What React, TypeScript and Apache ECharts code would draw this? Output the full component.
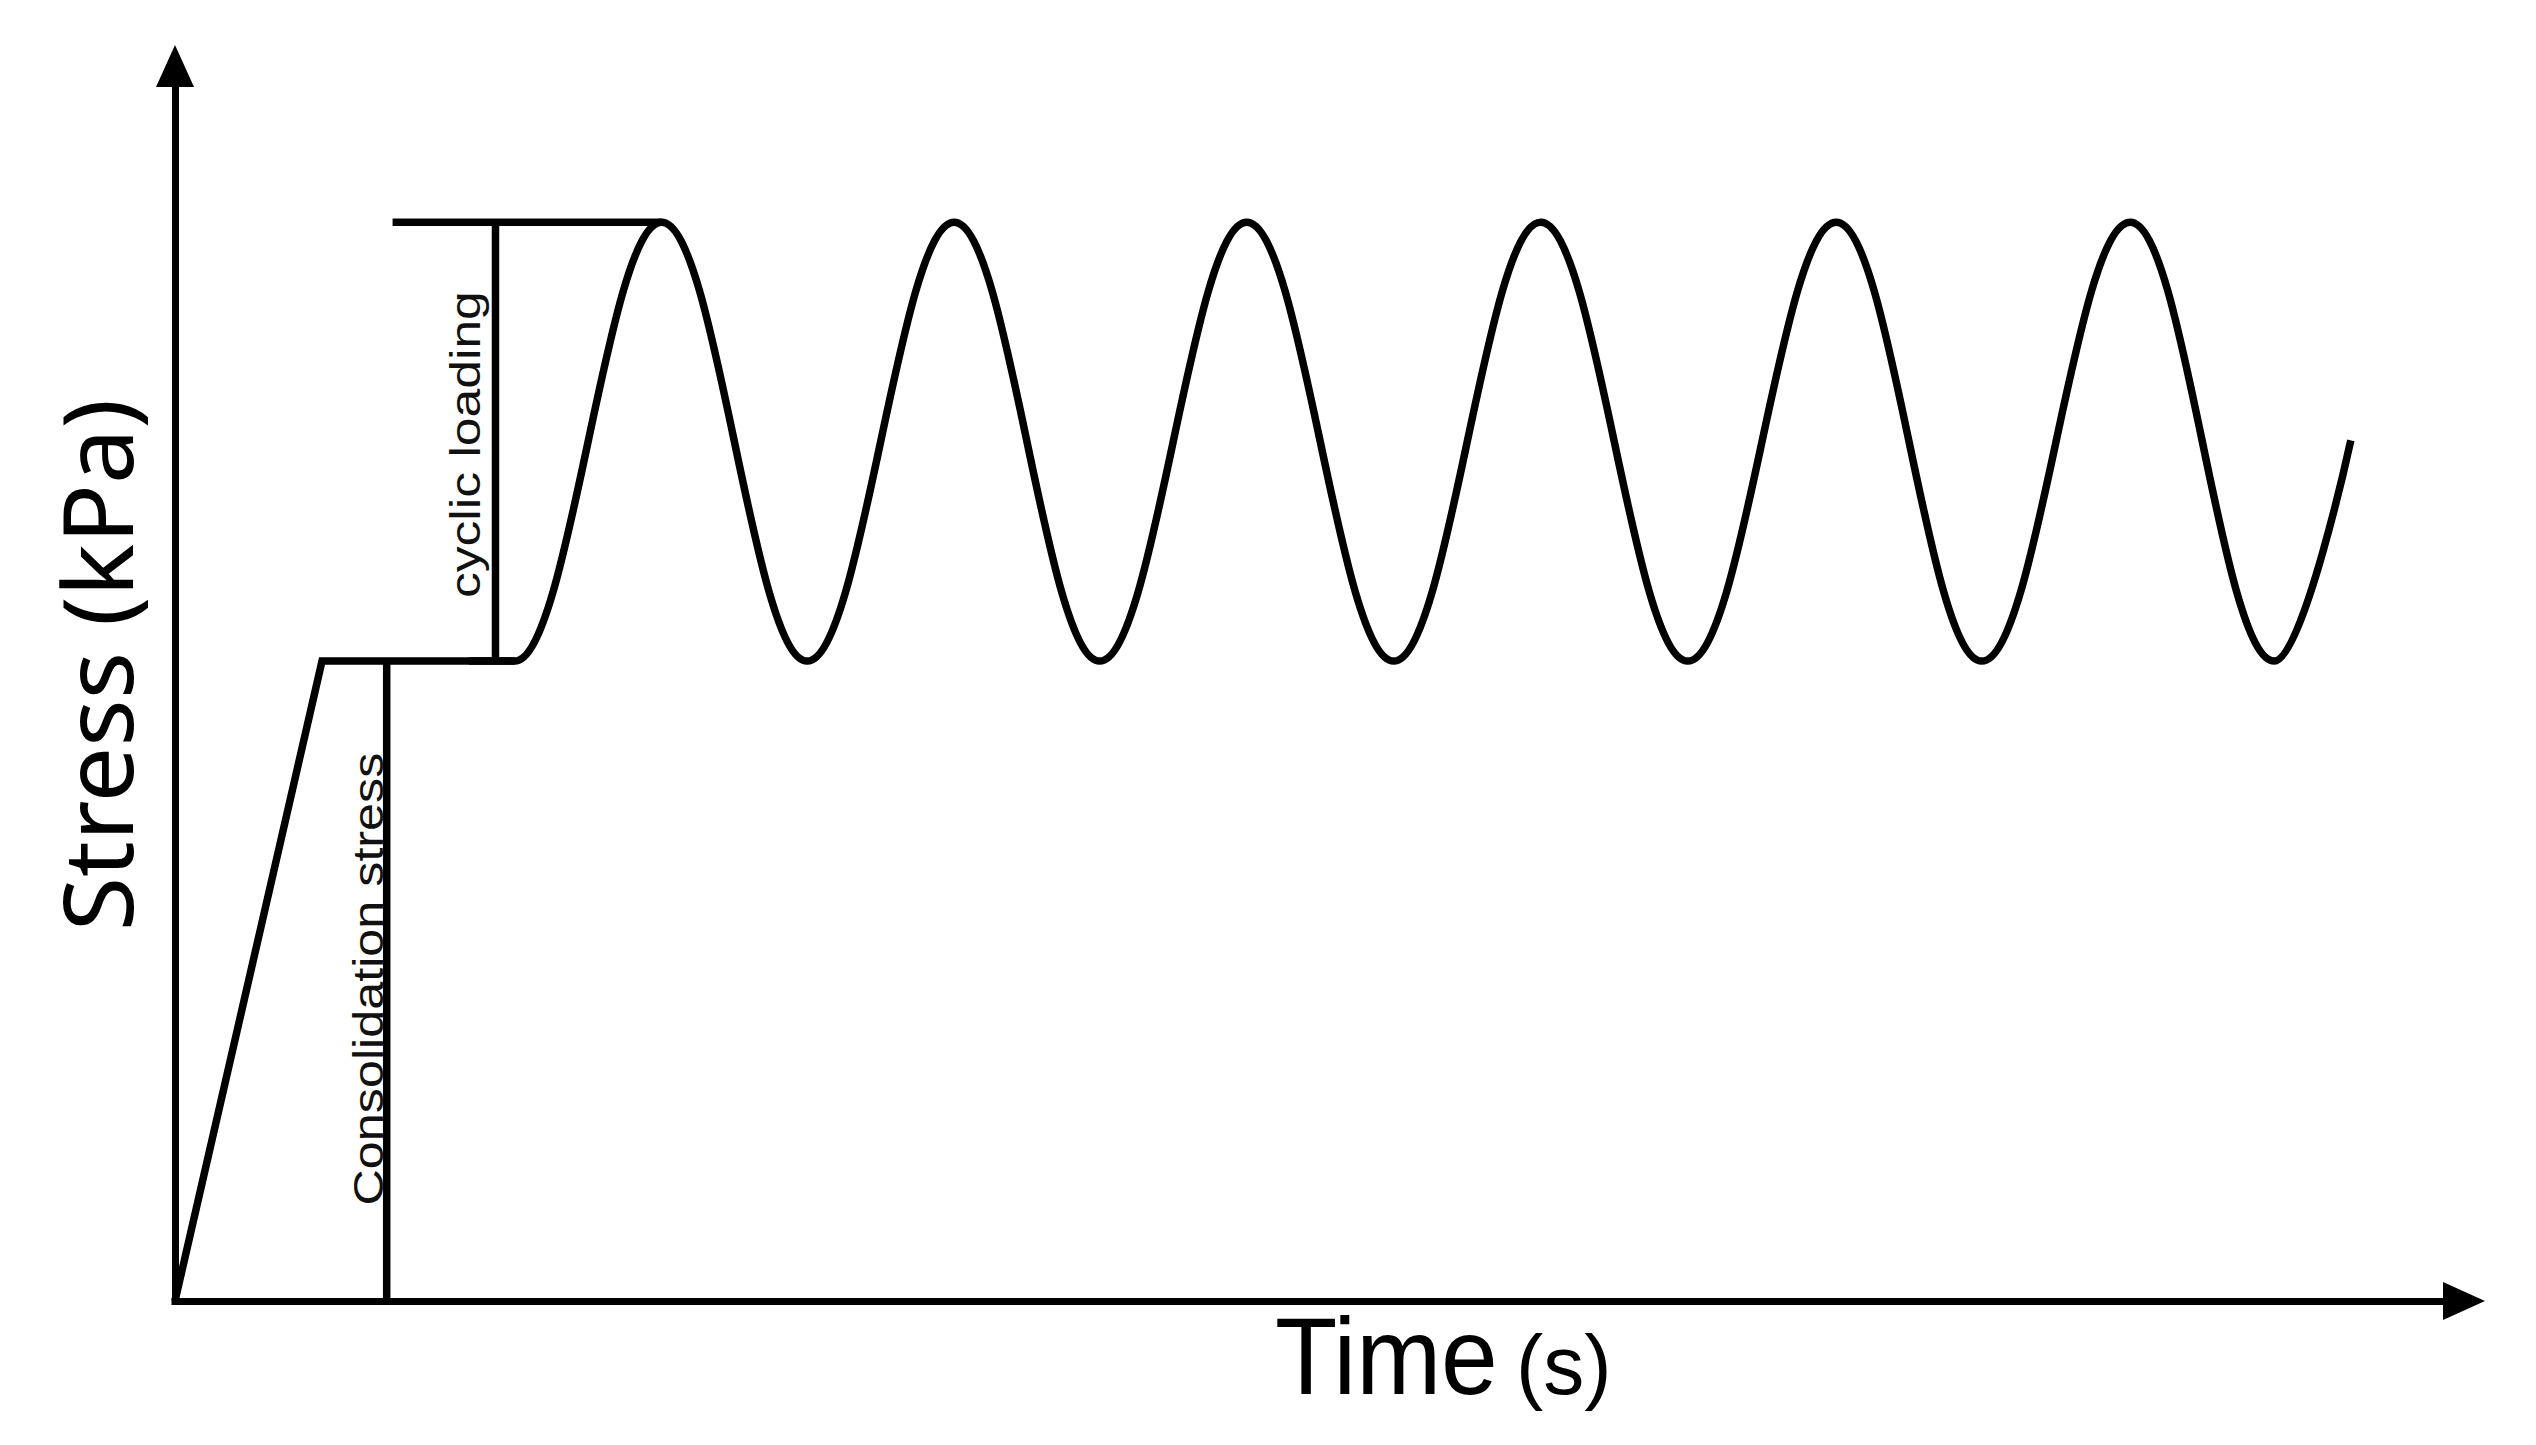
import React, { useEffect, useRef } from 'react';
import * as echarts from 'echarts';

// Time in seconds (half a loading cycle = 1 s), stress in kPa
const rampTime = [0, 1.0, 2.31];
const rampStress = [0, 100, 100];

const cyclicTime = [2.0, 2.31, 3.31, 4.3, 5.3, 6.29, 7.29, 8.29, 9.29, 10.29, 11.3, 12.29, 13.3, 14.28, 14.8];
const cyclicStress = [100, 100, 168.6, 100, 168.6, 100, 168.6, 100, 168.6, 100, 168.6, 100, 168.6, 100, 134.5];

const peakLineTime = [1.48, 3.31];
const peakLineStress = [168.6, 168.6];

const cyclicMarkerTime = [2.18, 2.18];
const cyclicMarkerStress = [100, 168.6];

const consolidationMarkerTime = [1.44, 1.44];
const consolidationMarkerStress = [0, 100];

const TIME_MAX = 15.57;
const STRESS_MAX = 193;

const pairs = (xs: number[], ys: number[]) => xs.map((x, i) => [x, ys[i]]);

export default function App() {
  const ref = useRef<HTMLDivElement>(null);
  useEffect(() => {
    if (!ref.current) return;
    const chart = echarts.init(ref.current, null, { renderer: 'svg' });
    const lineStyle = { color: '#000', width: 7.5, cap: 'butt', join: 'miter' };
    const axisLine = {
      show: true,
      symbol: ['none', 'triangle'],
      symbolSize: [38, 42],
      lineStyle: { color: '#000', width: 7, cap: 'square' },
    };
    const hidden = {
      axisTick: { show: false },
      axisLabel: { show: false },
      splitLine: { show: false },
    };
    chart.setOption({
      animation: false,
      backgroundColor: '#ffffff',
      grid: { left: 175, right: 72, top: 66, bottom: 144 },
      xAxis: { type: 'value', min: 0, max: TIME_MAX, axisLine, ...hidden },
      yAxis: { type: 'value', min: 0, max: STRESS_MAX, axisLine, ...hidden },
      series: [
        { type: 'line', data: pairs(rampTime, rampStress), showSymbol: false, lineStyle },
        {
          type: 'line',
          data: pairs(cyclicTime, cyclicStress),
          smooth: 0.37,
          smoothMonotone: 'x',
          showSymbol: false,
          lineStyle,
        },
        { type: 'line', data: pairs(peakLineTime, peakLineStress), showSymbol: false, lineStyle },
        { type: 'line', data: pairs(cyclicMarkerTime, cyclicMarkerStress), showSymbol: false, lineStyle },
        { type: 'line', data: pairs(consolidationMarkerTime, consolidationMarkerStress), showSymbol: false, lineStyle },
      ],
    });

    const px = (t: number, s: number) => chart.convertToPixel({ gridIndex: 0 }, [t, s]) as number[];
    const origin = px(0, 0);
    const cyc = px(cyclicMarkerTime[0], (cyclicMarkerStress[0] + cyclicMarkerStress[1]) / 2);
    const con = px(consolidationMarkerTime[0], (consolidationMarkerStress[0] + consolidationMarkerStress[1]) / 2);
    const stressMid = px(0, 100);

    chart.setOption({
      graphic: [
        {
          type: 'text',
          x: cyc[0] - 30,
          y: cyc[1] + 3,
          rotation: Math.PI / 2,
          scaleX: 1.2,
          style: {
            text: 'cyclic loading',
            fontFamily: '"Liberation Sans", Arial, sans-serif',
            fontSize: 43,
            fill: '#111',
            align: 'center',
            verticalAlign: 'middle',
          },
        },
        {
          type: 'text',
          x: con[0] - 18,
          y: con[1] - 2,
          rotation: Math.PI / 2,
          scaleX: 1.17,
          style: {
            text: 'Consolidation stress',
            fontFamily: '"Liberation Sans", Arial, sans-serif',
            fontSize: 43,
            fill: '#111',
            align: 'center',
            verticalAlign: 'middle',
          },
        },
        {
          type: 'text',
          x: origin[0] - 79,
          y: stressMid[1] + 4,
          rotation: Math.PI / 2,
          scaleX: 1.03,
          style: {
            text: 'Stress (kPa)',
            fontFamily: '"Noto Sans", sans-serif',
            fontSize: 96,
            fill: '#000',
            align: 'center',
            verticalAlign: 'middle',
          },
        },
        {
          type: 'text',
          x: 1275,
          y: origin[1] + 55,
          scaleY: 1.08,
          style: {
            text: 'Time',
            fontFamily: '"Liberation Sans", Arial, sans-serif',
            fontSize: 102,
            fill: '#000',
            align: 'left',
            verticalAlign: 'middle',
          },
        },
        {
          type: 'text',
          x: 1516,
          y: origin[1] + 64,
          scaleY: 1.02,
          style: {
            text: '(s)',
            fontFamily: '"Liberation Sans", Arial, sans-serif',
            fontSize: 82,
            fill: '#000',
            align: 'left',
            verticalAlign: 'middle',
          },
        },
      ],
    });

    return () => chart.dispose();
  }, []);
  return (
    <div
      ref={ref}
      style={{ position: 'fixed', left: 0, top: 0, width: 2536, height: 1445, background: '#fff' }}
    />
  );
}
